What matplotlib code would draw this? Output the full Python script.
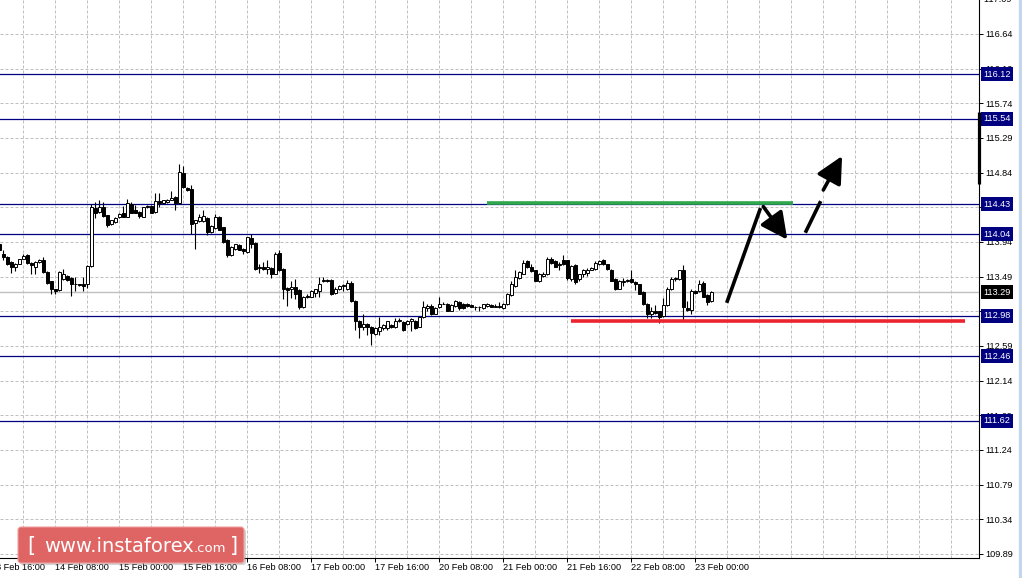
import matplotlib.pyplot as plt
import matplotlib.transforms as mtrans
import numpy as np
from matplotlib.patches import FancyArrowPatch, FancyBboxPatch, Rectangle

plt.rcParams['font.family'] = ['Liberation Sans', 'DejaVu Sans']

# hourly candles, first one is cut by the left edge
opens = [113.91, 113.78, 113.75, 113.68, 113.62, 113.65, 113.72, 113.77, 113.67, 113.62,
         113.68, 113.71, 113.55, 113.43, 113.33, 113.32, 113.46, 113.50, 113.47, 113.40,
         113.40, 113.40, 113.39, 113.63, 114.38, 114.33, 114.39, 114.29, 114.17, 114.20,
         114.26, 114.31, 114.27, 114.43, 114.35, 114.33, 114.27, 114.39, 114.41, 114.33,
         114.47, 114.44, 114.46, 114.49, 114.53, 114.44, 114.84, 114.64, 114.63, 114.18,
         114.21, 114.21, 114.25, 114.07, 114.12, 114.27, 114.13, 113.97, 113.77, 113.85,
         113.90, 113.85, 113.81, 113.99, 113.93, 113.60, 113.61, 113.59, 113.60, 113.53,
         113.80, 113.59, 113.34, 113.33, 113.35, 113.32, 113.09, 113.22, 113.23, 113.28,
         113.30, 113.43, 113.45, 113.45, 113.28, 113.33, 113.37, 113.33, 113.41, 113.18,
         112.92, 112.84, 112.88, 112.84, 112.75, 112.79, 112.82, 112.82, 112.86, 112.83,
         112.91, 112.90, 112.88, 112.92, 112.92, 112.84, 112.96, 113.08, 113.11, 113.01,
         113.09, 113.14, 113.14, 113.05, 113.11, 113.16, 113.14, 113.13, 113.12, 113.10,
         113.09, 113.08, 113.11, 113.12, 113.10, 113.11, 113.08, 113.14, 113.25, 113.37,
         113.47, 113.53, 113.69, 113.61, 113.57, 113.43, 113.50, 113.52, 113.72, 113.69,
         113.64, 113.70, 113.70, 113.46, 113.64, 113.46, 113.53, 113.54, 113.58, 113.59,
         113.65, 113.71, 113.66, 113.58, 113.46, 113.33, 113.42, 113.43, 113.46, 113.42,
         113.39, 113.29, 113.14, 113.01, 113.04, 113.04, 112.98, 113.12, 113.33, 113.46,
         113.46, 113.58, 113.08, 113.06, 113.31, 113.30, 113.41, 113.25, 113.17]
highs = [113.95, 113.84, 113.76, 113.69, 113.67, 113.72, 113.78, 113.79, 113.68, 113.69,
         113.72, 113.74, 113.56, 113.44, 113.33, 113.56, 113.59, 113.51, 113.48, 113.48,
         113.40, 113.49, 113.64, 114.43, 114.46, 114.48, 114.46, 114.29, 114.23, 114.26,
         114.31, 114.41, 114.50, 114.46, 114.42, 114.34, 114.40, 114.42, 114.42, 114.58,
         114.58, 114.49, 114.50, 114.60, 114.54, 114.95, 114.93, 114.66, 114.68, 114.23,
         114.30, 114.35, 114.26, 114.16, 114.30, 114.28, 114.14, 113.98, 113.89, 113.92,
         113.91, 113.86, 114.01, 114.04, 113.94, 113.66, 113.68, 113.71, 113.61, 113.81,
         113.84, 113.60, 113.36, 113.44, 113.46, 113.33, 113.24, 113.26, 113.32, 113.33,
         113.48, 113.48, 113.46, 113.46, 113.35, 113.38, 113.39, 113.45, 113.44, 113.19,
         112.93, 113.00, 112.89, 112.85, 112.83, 112.96, 112.87, 112.92, 112.87, 112.95,
         112.95, 112.91, 112.93, 112.95, 112.93, 112.98, 113.17, 113.14, 113.13, 113.09,
         113.22, 113.16, 113.15, 113.13, 113.19, 113.17, 113.15, 113.15, 113.13, 113.11,
         113.11, 113.14, 113.15, 113.13, 113.13, 113.16, 113.15, 113.28, 113.43, 113.58,
         113.56, 113.70, 113.71, 113.65, 113.58, 113.54, 113.55, 113.74, 113.75, 113.70,
         113.68, 113.77, 113.71, 113.64, 113.65, 113.53, 113.59, 113.60, 113.62, 113.69,
         113.70, 113.72, 113.66, 113.59, 113.47, 113.45, 113.47, 113.46, 113.58, 113.43,
         113.40, 113.30, 113.15, 113.09, 113.12, 113.05, 113.21, 113.35, 113.49, 113.49,
         113.58, 113.64, 113.17, 113.33, 113.32, 113.45, 113.43, 113.26, 113.30]
lows = [113.83, 113.71, 113.64, 113.54, 113.56, 113.65, 113.72, 113.66, 113.52, 113.52,
        113.67, 113.54, 113.40, 113.27, 113.27, 113.31, 113.45, 113.44, 113.24, 113.30,
        113.37, 113.30, 113.34, 113.62, 114.25, 114.32, 114.27, 114.13, 114.16, 114.19,
        114.25, 114.26, 114.26, 114.31, 114.31, 114.25, 114.26, 114.38, 114.31, 114.32,
        114.39, 114.43, 114.45, 114.48, 114.35, 114.43, 114.64, 114.60, 114.05, 113.85,
        114.20, 114.20, 114.03, 114.06, 114.11, 114.09, 113.93, 113.75, 113.76, 113.84,
        113.83, 113.78, 113.80, 113.86, 113.57, 113.54, 113.58, 113.52, 113.47, 113.52,
        113.56, 113.20, 113.11, 113.21, 113.20, 113.07, 113.08, 113.21, 113.22, 113.22,
        113.23, 113.42, 113.42, 113.25, 113.27, 113.32, 113.31, 113.32, 113.16, 112.80,
        112.69, 112.80, 112.73, 112.60, 112.73, 112.73, 112.80, 112.80, 112.82, 112.82,
        112.90, 112.79, 112.86, 112.79, 112.81, 112.83, 112.95, 113.05, 112.99, 113.00,
        113.08, 113.13, 113.04, 113.04, 113.10, 113.06, 113.07, 113.10, 113.09, 113.06,
        113.05, 113.07, 113.10, 113.09, 113.09, 113.08, 113.07, 113.12, 113.24, 113.36,
        113.46, 113.52, 113.60, 113.55, 113.43, 113.42, 113.49, 113.51, 113.66, 113.61,
        113.58, 113.64, 113.45, 113.44, 113.40, 113.44, 113.49, 113.50, 113.57, 113.58,
        113.64, 113.64, 113.57, 113.43, 113.32, 113.33, 113.37, 113.42, 113.41, 113.32,
        113.26, 113.12, 112.95, 112.95, 113.01, 112.89, 112.97, 113.11, 113.32, 113.44,
        113.45, 112.93, 113.04, 113.00, 113.27, 113.29, 113.22, 113.12, 113.16]
closes = [113.84, 113.75, 113.66, 113.61, 113.66, 113.72, 113.76, 113.67, 113.64, 113.68,
          113.71, 113.55, 113.41, 113.33, 113.30, 113.55, 113.53, 113.45, 113.39, 113.39,
          113.38, 113.37, 113.63, 114.39, 114.32, 114.39, 114.28, 114.16, 114.23, 114.25,
          114.30, 114.27, 114.44, 114.32, 114.32, 114.28, 114.39, 114.41, 114.32, 114.47,
          114.44, 114.48, 114.49, 114.51, 114.45, 114.85, 114.65, 114.62, 114.17, 114.22,
          114.26, 114.28, 114.07, 114.15, 114.26, 114.10, 113.94, 113.77, 113.88, 113.91,
          113.84, 113.82, 114.00, 113.92, 113.59, 113.61, 113.59, 113.62, 113.53, 113.78,
          113.57, 113.33, 113.32, 113.35, 113.27, 113.09, 113.23, 113.24, 113.31, 113.33,
          113.40, 113.45, 113.43, 113.27, 113.33, 113.37, 113.38, 113.41, 113.17, 112.92,
          112.83, 112.88, 112.84, 112.76, 112.82, 112.84, 112.86, 112.91, 112.83, 112.92,
          112.93, 112.80, 112.92, 112.94, 112.82, 112.97, 113.10, 113.11, 113.00, 113.08,
          113.14, 113.14, 113.05, 113.12, 113.18, 113.08, 113.08, 113.11, 113.10, 113.09,
          113.10, 113.13, 113.13, 113.10, 113.11, 113.09, 113.14, 113.27, 113.40, 113.48,
          113.55, 113.67, 113.61, 113.56, 113.44, 113.53, 113.53, 113.72, 113.67, 113.62,
          113.66, 113.66, 113.47, 113.63, 113.42, 113.52, 113.58, 113.57, 113.60, 113.67,
          113.69, 113.66, 113.59, 113.44, 113.33, 113.44, 113.44, 113.45, 113.42, 113.39,
          113.27, 113.14, 113.00, 113.05, 113.02, 112.97, 113.12, 113.33, 113.46, 113.47,
          113.57, 113.09, 113.06, 113.30, 113.28, 113.39, 113.23, 113.16, 113.29]

time_labels = ['13 Feb 16:00', '14 Feb 08:00', '15 Feb 00:00', '15 Feb 16:00',
               '16 Feb 08:00', '17 Feb 00:00', '17 Feb 16:00', '20 Feb 08:00',
               '21 Feb 00:00', '21 Feb 16:00', '22 Feb 08:00', '23 Feb 00:00']
time_label_bars = [-2, 14, 30, 46, 62, 78, 94, 110, 126, 142, 158, 174]
grid_bars = list(range(6, 245, 8))

price_ticks = [109.89, 110.34, 110.79, 111.24, 111.69, 112.14, 112.59, 113.04, 113.49,
               113.94, 114.39, 114.84, 115.29, 115.74, 116.19, 116.64]
levels = [116.12, 115.54, 114.43, 114.04, 112.98, 112.46, 111.62]
last_price = 113.29

# hand drawn markup (bar index, price)
resist_x = [121.9, 198.4]
resist_y = 114.44
support_x = [142.9, 241.4]
support_y = 112.915
up_leg_x = [181.85, 190.3]
up_leg_y = [113.15, 114.38]
pullback_x = [191.0, 197.0]
pullback_y = [114.40, 113.97]
breakout_x = [201.5, 205.35, 206.0, 210.7]
breakout_y = [114.06, 114.47, 114.615, 115.056]

W, H = 1022, 578
fig = plt.figure(figsize=(W / 100, H / 100), dpi=100)
ax = fig.add_axes([0, 20 / H, 978.7 / W, 558 / H])

xs = np.arange(len(opens))
o = np.array(opens)
c = np.array(closes)
up = c >= o

grid_kw = dict(color='#c0c0c0', lw=0.72, linestyle=(0, (3, 2)), zorder=0.5)
for g in grid_bars:
    ax.axvline(g, **grid_kw)
for p in price_ticks:
    ax.axhline(p, **grid_kw)

for lv in levels:
    ax.axhline(lv, color='#000080', lw=0.9, zorder=1)
ax.axhline(last_price, color='#c0c0c0', lw=1.0, zorder=1)

ax.vlines(xs, lows, highs, color='black', lw=0.8, zorder=3)
ax.bar(xs, np.abs(c - o), bottom=np.minimum(o, c), width=0.62,
       color=np.where(up, 'white', 'black'), edgecolor='black', linewidth=0.7, zorder=4)

ax.plot(resist_x, [resist_y, resist_y], color='#2ea84a', lw=2.6, solid_capstyle='butt', zorder=5)
ax.plot(support_x, [support_y, support_y], color='#ec2430', lw=2.6, solid_capstyle='butt', zorder=5)

arrow_kw = dict(arrowstyle='-|>,head_length=0.9,head_width=0.45', mutation_scale=18,
                color='black', lw=2.6, shrinkA=0, shrinkB=0, zorder=6)
ax.plot(up_leg_x, up_leg_y, color='black', lw=2.6, solid_capstyle='butt', zorder=6)
ax.add_patch(FancyArrowPatch((pullback_x[0], pullback_y[0]), (pullback_x[1], pullback_y[1]),
                             **arrow_kw))
ax.plot(breakout_x[:2], breakout_y[:2], color='black', lw=2.6, solid_capstyle='butt', zorder=6)
ax.add_patch(FancyArrowPatch((breakout_x[2], breakout_y[2]), (breakout_x[3], breakout_y[3]),
                             **arrow_kw))

ax.set_xlim(0.175, 244.85)
ax.set_ylim(109.838, 117.081)

for s in ['left', 'top']:
    ax.spines[s].set_visible(False)
for s in ['right', 'bottom']:
    ax.spines[s].set_linewidth(0.8)

ax.yaxis.tick_right()
ax.set_yticks(price_ticks, [f'{p:.2f}' for p in price_ticks])
ax.tick_params(axis='y', direction='out', length=3, width=0.7, pad=2, labelsize=6.6)
ax.text(1.0, 117.09, '  117.09', transform=ax.get_yaxis_transform(), ha='left', va='center',
        fontsize=6.6, clip_on=False)

ax.set_xticks([b for b in time_label_bars if b > 0], [])
ax.tick_params(axis='x', direction='out', length=3, width=0.7)
for b, lab in zip(time_label_bars, time_labels):
    ax.annotate(lab, xy=(b, 0), xycoords=('data', 'axes fraction'), xytext=(-0.5, -6.5),
                textcoords='offset points', ha='left', va='center', fontsize=6.6,
                annotation_clip=False)

for lv in levels:
    ax.text(1.0045, lv, f'{lv:.2f}', transform=ax.get_yaxis_transform(), ha='left', va='center',
            color='white', fontsize=6.6, clip_on=False, zorder=7,
            bbox=dict(boxstyle='square,pad=0.28', fc='#000080', ec='none'))
ax.text(1.0045, last_price, f'{last_price:.2f}', transform=ax.get_yaxis_transform(), ha='left',
        va='center', color='white', fontsize=6.6, clip_on=False, zorder=7,
        bbox=dict(boxstyle='square,pad=0.28', fc='black', ec='none'))

# little black marker on the price scale
ax.plot([1, 1], [114.69, 115.63], transform=ax.get_yaxis_transform(), color='black', lw=2.3,
        solid_capstyle='butt', clip_on=False, zorder=7)

# window edge on the right
fig.add_artist(Rectangle((1019 / W, 0), 3 / W, 1, transform=fig.transFigure,
                         color='#c4d6ec', zorder=0))

# watermark
ident = mtrans.IdentityTransform()
fig.add_artist(FancyBboxPatch((20, 13), 226, 36, boxstyle='round,pad=0,rounding_size=3',
                              transform=ident, fc='#808080', ec='none', alpha=0.35, zorder=8))
fig.add_artist(FancyBboxPatch((18, 15), 226, 36, boxstyle='round,pad=0,rounding_size=3',
                              transform=ident, fc='#df6565', ec='#eea0a0', lw=0.8, zorder=9))
logo_kw = dict(transform=ident, color='white', family='DejaVu Sans', va='baseline', zorder=10)
fig.text(27, 26, '[', fontsize=15, **logo_kw)
t_main = fig.text(44, 26, 'www.instaforex', fontsize=14, **logo_kw)
fig.canvas.draw()
bb = t_main.get_window_extent()
t_com = fig.text(bb.x1, 26, '.com', fontsize=9.5, **logo_kw)
fig.canvas.draw()
bb2 = t_com.get_window_extent()
fig.text(bb2.x1 + 4, 26, ']', fontsize=15, **logo_kw)

plt.savefig('out.png', dpi=100)
plt.close()
